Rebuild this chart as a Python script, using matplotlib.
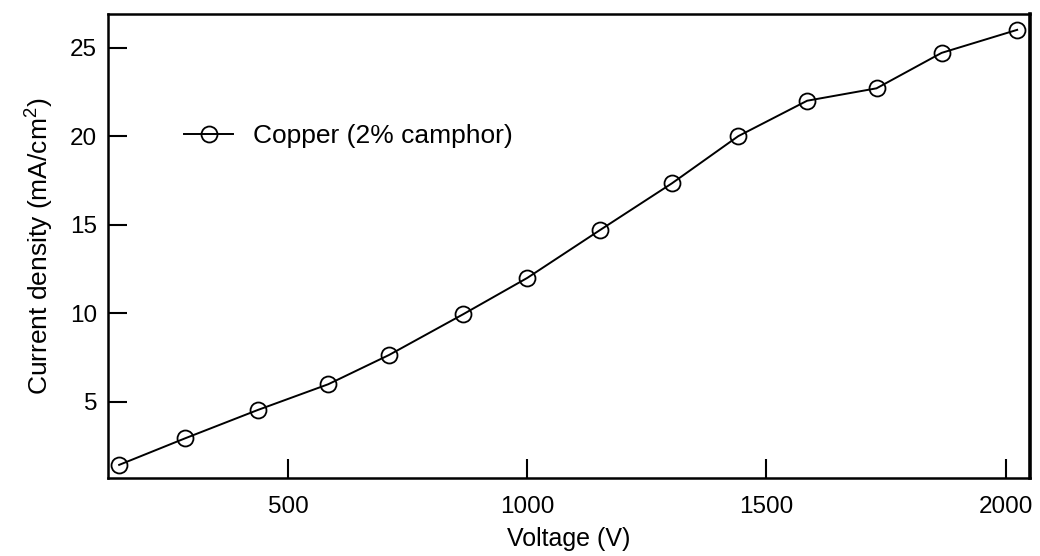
import matplotlib
matplotlib.use("Agg")
import matplotlib.pyplot as plt

plt.rcParams['font.family'] = ['Liberation Sans', 'DejaVu Sans']
plt.rcParams['mathtext.fontset'] = 'custom'
plt.rcParams['mathtext.rm'] = 'Liberation Sans'
plt.rcParams['mathtext.it'] = 'Liberation Sans'

# copper cathode, 2% camphor in the gas
voltage = [147, 285, 437, 584, 711, 866, 1000, 1152, 1303, 1441, 1585, 1730, 1866, 2024]
current = [1.45, 2.95, 4.55, 6.0, 7.65, 9.95, 12.0, 14.7, 17.35, 20.0, 22.0, 22.7, 24.7, 26.0]

fig = plt.figure(figsize=(10.4, 5.56), dpi=100)
ax = fig.add_axes([0.104, 0.14, 0.886, 0.835])

ax.plot(voltage, current, color='black', linewidth=1.4, marker='o', markersize=11.5,
        markerfacecolor='none', markeredgecolor='black', markeredgewidth=1.3,
        label='Copper (2% camphor)')

ax.set_xlim(124, 2050)
ax.set_ylim(0.7, 26.9)
ax.set_xticks([500, 1000, 1500, 2000])
ax.set_yticks([5, 10, 15, 20, 25])
ax.tick_params(direction='in', length=14, width=1.5, labelsize=17.5)
ax.tick_params(axis='x', pad=13)
ax.tick_params(axis='y', pad=8)

for side in ['left', 'bottom', 'top']:
    ax.spines[side].set_linewidth(1.8)
ax.spines['right'].set_linewidth(2.6)

ax.set_xlabel('Voltage (V)', fontsize=18, labelpad=6)
ax.set_ylabel(r'Current density (mA/cm$^{2}$)', fontsize=19, labelpad=10)

ax.legend(loc='upper left', bbox_to_anchor=(0.057, 0.814), frameon=False, fontsize=19,
          handlelength=1.85, handletextpad=0.75)

fig.savefig('out.png', dpi=100)
